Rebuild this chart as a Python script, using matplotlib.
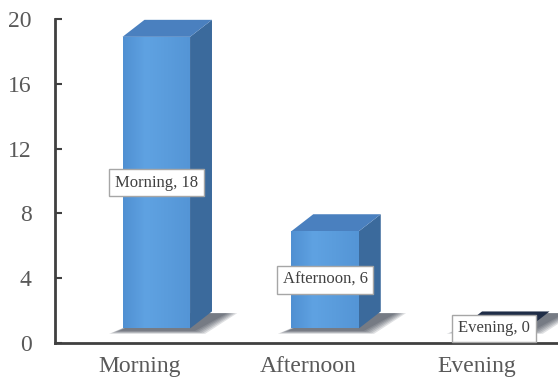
# -*- coding: utf-8 -*-
'''
一天中各时段的数量统计，绘制仿三维柱状图
'''
import numpy as np
import matplotlib
matplotlib.use('Agg')
import matplotlib.pyplot as plt
from matplotlib.patches import Polygon
from matplotlib.colors import LinearSegmentedColormap

# 数据
Periods = ['Morning', 'Afternoon', 'Evening']
Counts = [18, 6, 0]
YTicks = [0, 4, 8, 12, 16, 20]

# 柱体几何参数（数据坐标）
BarShift = 0.10      # 正面中心相对类别位置的偏移
BarWidth = 0.40
DepthX = 0.13        # 侧面深度
DepthY = 1.05
FloorY = 0.9         # 柱底离x轴的高度

# 颜色
FrontColor = '#5b9ddd'
SideColor = '#3b6a9c'
TopColor = '#4a80bf'
AxisColor = '#404040'
TextColor = '#595959'
FrontCmap = LinearSegmentedColormap.from_list(
    'front', ['#5090d2', '#5fa2e2', '#5a9cdc', '#5495d6'])

plt.rcParams['font.family'] = ['Liberation Serif', 'DejaVu Serif']

fig = plt.figure(figsize=(5.58, 3.85), dpi=100)
ax = fig.add_axes([0.0986, 0.109, 0.9014, 0.8416])
ax.set_xlim(-0.5, 2.48)
ax.set_ylim(0, 20)

for idx, (name, val) in enumerate(zip(Periods, Counts)):
    x0 = idx + BarShift - BarWidth / 2
    x1 = x0 + BarWidth
    y0 = FloorY
    y1 = FloorY + val

    # 柱底阴影，多层半透明叠加模拟模糊
    for k in range(6):
        grow = 0.012 * k
        shadow = Polygon([(x0 - 0.02 - grow, y0 - 0.15 - grow * 3),
                          (x1 + 0.03 + grow, y0 - 0.15 - grow * 3),
                          (x1 + DepthX + 0.09 + grow, y0 + DepthY * 0.9),
                          (x0 + DepthX + 0.08, y0 + DepthY * 0.9)],
                         closed=True, facecolor='#101828', edgecolor='none',
                         alpha=0.13, zorder=1)
        ax.add_patch(shadow)

    if val > 0:
        # 正面（横向渐变）
        front = Polygon([(x0, y0), (x1, y0), (x1, y1), (x0, y1)],
                        closed=True, facecolor=FrontColor, edgecolor='none',
                        zorder=3)
        ax.add_patch(front)
        grad = np.tile(np.linspace(0, 1, 64), (2, 1))
        im = ax.imshow(grad, cmap=FrontCmap, extent=[x0, x1, y0, y1],
                       aspect='auto', zorder=3.1)
        im.set_clip_path(front)
        # 侧面
        side = Polygon([(x1, y0), (x1 + DepthX, y0 + DepthY),
                        (x1 + DepthX, y1 + DepthY), (x1, y1)],
                       closed=True, facecolor=SideColor, edgecolor='none',
                       zorder=3)
        ax.add_patch(side)
        topColor = TopColor
    else:
        topColor = '#1f2d47'
    # 顶面
    top = Polygon([(x0, y1), (x1, y1), (x1 + DepthX, y1 + DepthY),
                   (x0 + DepthX, y1 + DepthY)],
                  closed=True, facecolor=topColor, edgecolor='none', zorder=3)
    ax.add_patch(top)

    # 数据标签
    ax.text(idx + BarShift, y0 + val / 2, '{}, {}'.format(name, val),
            ha='center', va='center', fontsize=12, color=AxisColor,
            zorder=5,
            bbox=dict(boxstyle='square,pad=0.35', facecolor='white',
                      edgecolor='#a6a6a6', linewidth=1.0))

# 坐标轴
ax.set_xticks(range(len(Periods)))
ax.set_xticklabels(Periods)
ax.set_yticks(YTicks)
ax.tick_params(axis='x', length=0, pad=9, labelsize=17, labelcolor=TextColor)
ax.tick_params(axis='y', direction='in', length=5, width=1.5, pad=17,
               labelsize=17, labelcolor=TextColor, color=AxisColor)
for sp in ['top', 'right']:
    ax.spines[sp].set_visible(False)
for sp in ['left', 'bottom']:
    ax.spines[sp].set_color(AxisColor)
    ax.spines[sp].set_linewidth(2)
    ax.spines[sp].set_zorder(4)

plt.savefig('out.png', dpi=100)
plt.close()
